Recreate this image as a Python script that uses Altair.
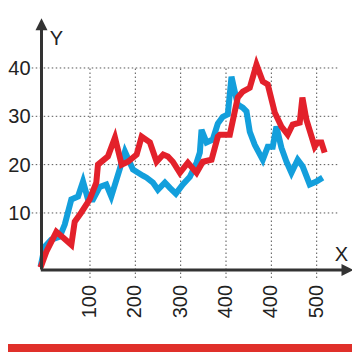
import altair as alt
import pandas as pd

# ---- data ----
blue_x = [-9.0, 0.2, 14.8, 33.3, 44.3, 58.8, 73.6, 84.6, 95.6, 106.6, 121.4, 135.9, 146.9,
          165.4, 177.1, 194.7, 216.7, 224.9, 238.8, 249.8, 265.2, 276.2, 289.4, 304.8, 320.3,
          335.0, 342.3, 346.0, 357.0, 370.9, 381.9, 392.9, 404.0, 412.1, 419.4, 426.0, 437.0,
          445.2, 452.4, 463.4, 481.1, 492.1, 503.1, 511.2, 522.2, 533.3, 544.3, 558.1, 569.2,
          584.6, 599.3, 613.2]
blue_y = [-1.1, 3.0, 4.5, 5.1, 7.6, 12.8, 13.4, 16.5, 12.8, 12.8, 15.4, 15.9, 13.4,
          19.0, 22.7, 19.0, 17.7, 17.3, 16.3, 14.8, 16.3, 15.2, 14.0, 15.9, 17.5,
          20.4, 22.5, 27.2, 24.6, 25.2, 28.5, 29.9, 30.4, 38.2, 35.1, 32.4, 31.8,
          31.0, 26.8, 24.1, 21.0, 23.7, 23.7, 27.9, 23.5, 20.6, 18.3, 21.0, 19.6,
          15.9, 16.5, 17.3]

red_x = [-9.0, 3.7, 25.8, 40.5, 58.8, 66.3, 80.8, 99.3, 113.9, 117.6, 139.6, 155.1, 169.8,
         183.7, 202.9, 213.9, 232.2, 246.9, 261.5, 271.8, 282.8, 298.2, 315.9, 335.0, 348.9,
         368.1, 381.9, 386.3, 408.4, 426.0, 437.0, 452.4, 467.2, 481.1, 492.1, 507.5, 522.2,
         536.1, 547.1, 562.6, 568.5, 577.3, 595.6, 602.2, 610.4, 617.6]
red_y = [-1.3, 2.0, 6.1, 4.9, 3.4, 8.2, 10.1, 12.8, 16.3, 20.0, 21.7, 25.6, 20.0,
         20.6, 22.1, 25.8, 24.6, 20.6, 22.1, 21.7, 20.6, 18.3, 20.4, 18.3, 20.6,
         21.0, 25.8, 26.2, 26.2, 33.9, 35.1, 35.9, 40.7, 37.2, 36.6, 30.8, 27.9,
         26.2, 28.3, 28.7, 33.9, 29.3, 23.7, 24.6, 24.6, 22.5]

x_ticks = [100, 200, 300, 400, 500, 600]
x_tick_labels = ["100", "200", "300", "400", "400", "500"]
y_ticks = [10, 20, 30, 40]
y_tick_labels = ["10", "20", "30", "40"]

W, H = 344, 344
X_DOMAIN = [-80.86, 677.9]
Y_DOMAIN = [-18.77, 52.41]

xs = alt.Scale(domain=X_DOMAIN, nice=False, zero=False)
ys = alt.Scale(domain=Y_DOMAIN, nice=False, zero=False)

AX = "#333333"
FONT = "Liberation Sans"

def X(field):
    return alt.X(field, type="quantitative", scale=xs, axis=None)

def Y(field):
    return alt.Y(field, type="quantitative", scale=ys, axis=None)

# red band at the bottom
band = alt.Chart(pd.DataFrame({"y": [-17.1], "y2": [-22.0]})).mark_rect(
    color="#e0302a").encode(x=alt.value(0), x2=alt.value(W), y=Y("y"), y2="y2")

# dotted grid
hgrid = alt.Chart(pd.DataFrame({"y": y_ticks, "x": [-28.5] * 4, "x2": [646.9] * 4})).mark_rule(
    color="#555555", strokeWidth=1, strokeDash=[1.5, 2.5]).encode(x=X("x"), x2="x2", y=Y("y"))
vgrid = alt.Chart(pd.DataFrame({"x": x_ticks, "y": [-3.46] * 6, "y2": [40.3] * 6})).mark_rule(
    color="#555555", strokeWidth=1, strokeDash=[1.5, 2.5]).encode(x=X("x"), y=Y("y"), y2="y2")

# series
blue = alt.Chart(pd.DataFrame({"x": blue_x, "y": blue_y})).mark_line(
    color="#139fdc", strokeWidth=6, strokeJoin="miter").encode(x=X("x"), y=Y("y"), order=alt.Order("x:Q"))
red = alt.Chart(pd.DataFrame({"x": red_x, "y": red_y})).mark_line(
    color="#e3212b", strokeWidth=6, strokeJoin="miter").encode(x=X("x"), y=Y("y"), order=alt.Order("x:Q"))

# axes lines
yaxis = alt.Chart(pd.DataFrame({"x": [-7.0], "y": [-1.7], "y2": [48.3]})).mark_rule(
    color=AX, strokeWidth=3).encode(x=X("x"), y=Y("y"), y2="y2")
xaxis = alt.Chart(pd.DataFrame({"x": [-8.5], "x2": [666.8], "y": [-1.8]})).mark_rule(
    color=AX, strokeWidth=3).encode(x=X("x"), x2="x2", y=Y("y"))

up_arrow = alt.Chart(pd.DataFrame({"x": [-7.0], "y": [49.04]})).mark_point(
    shape="M-1,1L0,-1L1,1Z", filled=True, opacity=1, size=144, color=AX).encode(x=X("x"), y=Y("y"))
right_arrow = alt.Chart(pd.DataFrame({"x": [668.0], "y": [-1.8]})).mark_point(
    shape="M-1,-1L1,0L-1,1Z", filled=True, opacity=1, size=144, color=AX).encode(x=X("x"), y=Y("y"))

# tick labels
ylab = alt.Chart(pd.DataFrame({"y": y_ticks, "t": y_tick_labels, "x": [-31.2] * 4})).mark_text(
    align="right", baseline="middle", fontSize=20, font=FONT, color="#222222", dy=1).encode(
    x=X("x"), y=Y("y"), text="t:N")
xlab = alt.Chart(pd.DataFrame({"x": x_ticks, "t": x_tick_labels, "y": [-4.9] * 6})).mark_text(
    align="right", baseline="middle", angle=270, fontSize=20, font=FONT, color="#222222").encode(
    x=X("x"), y=Y("y"), text="t:N")

titles = alt.Chart(pd.DataFrame({"x": [26.1, 654.7], "y": [45.9, 1.3], "t": ["Y", "X"]})).mark_text(
    align="center", baseline="middle", fontSize=20, font=FONT, color="#222222").encode(
    x=X("x"), y=Y("y"), text="t:N")

chart = alt.layer(band, hgrid, vgrid, blue, red, yaxis, xaxis, up_arrow, right_arrow,
                  ylab, xlab, titles).properties(
    width=W, height=H, autosize=alt.AutoSizeParams(type="none"), padding=0,
    background="white").configure_view(stroke=None)

chart.save("out.html", embed_options={"renderer": "svg", "actions": False})
